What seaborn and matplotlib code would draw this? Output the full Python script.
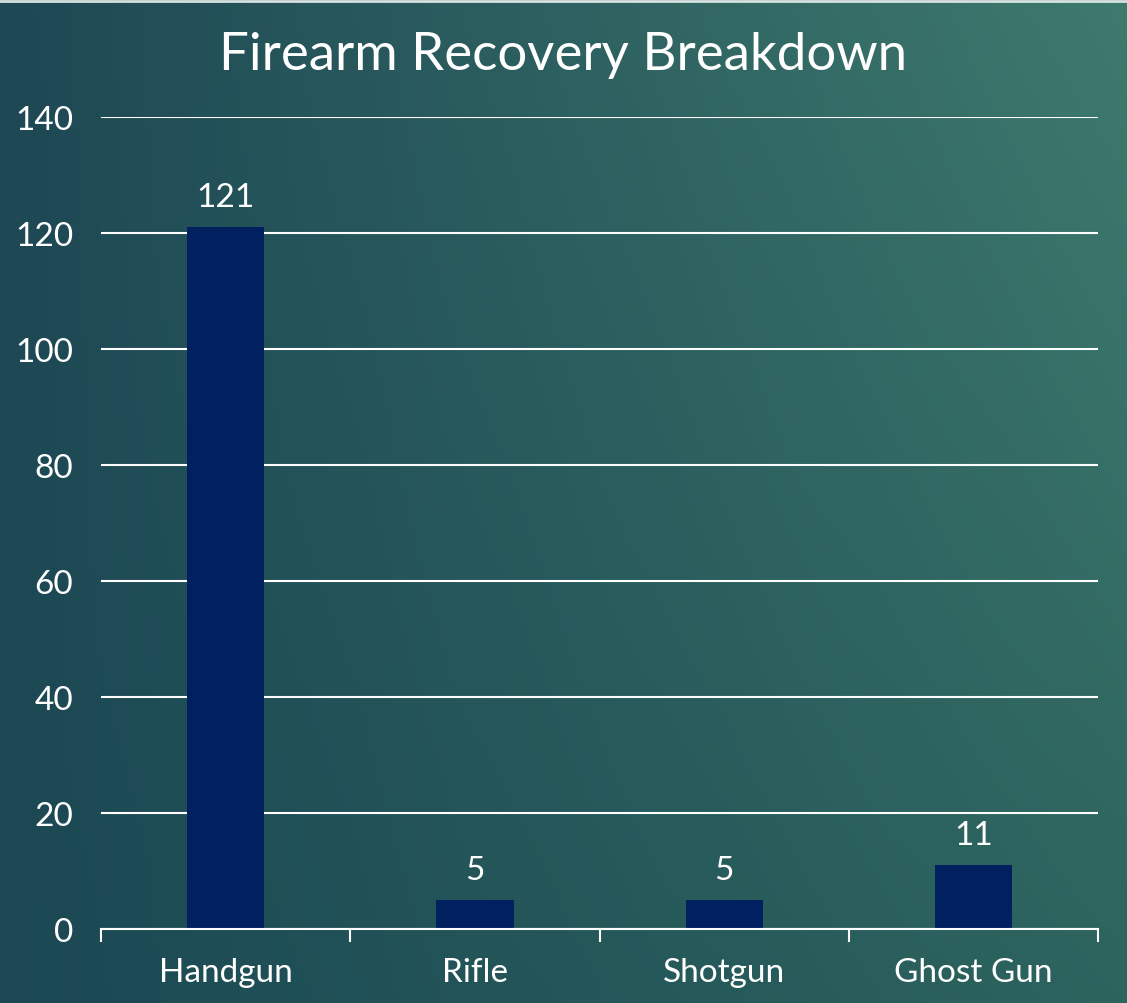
import numpy as np
import pandas as pd
import matplotlib
matplotlib.use("Agg")
import matplotlib.pyplot as plt
import seaborn as sns

# datos
categorias = ["Handgun", "Rifle", "Shotgun", "Ghost Gun"]
valores = [121, 5, 5, 11]
ticks_y = [0, 20, 40, 60, 80, 100, 120, 140]

df = pd.DataFrame({"tipo": categorias, "cantidad": valores})

sns.set_theme(style="white")
plt.rcParams["font.family"] = ["Lato", "DejaVu Sans"]

fig = plt.figure(figsize=(11.27, 10.04), dpi=100)

# --- fondo degradado verde azulado ---
bg = fig.add_axes([0, 0, 1, 1], zorder=0)
esq_ti = np.array([30, 72, 84]) / 255
esq_td = np.array([62, 122, 110]) / 255
esq_bi = np.array([27, 72, 84]) / 255
esq_bd = np.array([45, 100, 94]) / 255
u = np.linspace(0, 1, 300)[None, :, None]
v = np.linspace(0, 1, 300)[:, None, None]
img = (esq_ti * (1 - u) * (1 - v) + esq_td * u * (1 - v)
       + esq_bi * (1 - u) * v + esq_bd * u * v)
bg.imshow(img, aspect="auto", extent=[0, 1, 0, 1])
bg.axhline(0.998, color="#d8e2e0", linewidth=2)
bg.axis("off")

# --- grafico de barras ---
ax = fig.add_axes([0.0896, 0.0737, 0.8847, 0.8088], zorder=1)
ax.patch.set_alpha(0)
sns.barplot(data=df, x="tipo", y="cantidad", color="#002060", width=0.31,
            saturation=1, edgecolor="none", linewidth=0, ax=ax, zorder=3)

ax.set_ylim(0, 140)
ax.set_yticks(ticks_y)
ax.set_xlim(-0.5, 3.5)
ax.grid(axis="y", color="white", linewidth=1.5, zorder=0)
ax.set_axisbelow(True)
for lado in ["top", "right", "left"]:
    ax.spines[lado].set_visible(False)
ax.spines["bottom"].set_color("white")
ax.spines["bottom"].set_linewidth(1.5)
ax.spines["bottom"].set_zorder(4)

ax.set_xticks(np.arange(-0.5, 4, 1), minor=True)
ax.tick_params(axis="x", which="minor", length=9, width=1.5, color="white",
               direction="out", bottom=True)
ax.tick_params(axis="x", which="major", length=0, pad=20, labelsize=24,
               labelcolor="white")
ax.tick_params(axis="y", length=0, pad=20, labelsize=24, labelcolor="white")
ax.set_xlabel("")
ax.set_ylabel("")

for cont in ax.containers:
    ax.bar_label(cont, padding=11, color="white", fontsize=24)

fig.text(0.5, 0.945, "Firearm Recovery Breakdown", ha="center", va="center",
         color="white", fontsize=38)

plt.savefig("out.png", dpi=100)
plt.close()
